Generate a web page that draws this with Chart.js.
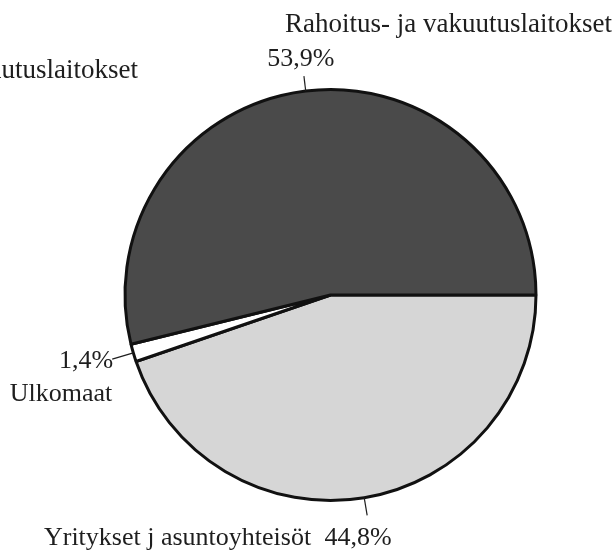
<!DOCTYPE html>
<html>
<head>
<meta charset="utf-8">
<script src="https://cdn.jsdelivr.net/npm/chart.js@4.4.0/dist/chart.umd.min.js"></script>
<style>
    html, body { margin: 0; padding: 0; background: #fff; }
    #wrap { width: 613px; height: 550px; position: relative; }
</style>
</head>
<body>
<div id="wrap"><canvas id="pieChart" width="613" height="550"></canvas></div>
<script>
// Sector shares, clockwise from 3 o'clock
const categories = ['Yritykset j asuntoyhteisöt', 'Ulkomaat', 'Rahoitus- ja vakuutuslaitokset'];
const shares = [44.8, 1.4, 53.9];
const sliceColors = ['#d6d6d6', '#ffffff', '#4a4a4a'];

const FONT = '26px "Liberation Serif", "Times New Roman", serif';
const TITLE_FONT = '27px "Liberation Serif", "Times New Roman", serif';
const INK = '#1e1e1e';

function pct(v) {
    return v.toFixed(1).replace('.', ',') + '%';
}

// Leader lines + labels, placed off each slice's mid angle
const labelPlugin = {
    id: 'sliceLabels',
    afterDraw(chart) {
        const ctx = chart.ctx;
        const arcs = chart.getDatasetMeta(0).data;
        const leaderLen = [18, 22, 15];

        ctx.save();
        ctx.font = FONT;
        ctx.fillStyle = INK;
        ctx.strokeStyle = INK;
        ctx.lineWidth = 1.2;

        const ends = arcs.map(function (arc, i) {
            const mid = (arc.startAngle + arc.endAngle) / 2;
            const cx = Math.cos(mid), cy = Math.sin(mid);
            const x0 = arc.x + cx * arc.outerRadius;
            const y0 = arc.y + cy * arc.outerRadius;
            const x1 = x0 + cx * leaderLen[i];
            const y1 = y0 + cy * leaderLen[i];
            ctx.beginPath();
            ctx.moveTo(x0, y0);
            ctx.lineTo(x1, y1);
            ctx.stroke();
            return { x: x1, y: y1 };
        });

        // Yritykset (bottom)
        ctx.textAlign = 'center';
        ctx.textBaseline = 'alphabetic';
        ctx.fillText(pct(shares[0]), ends[0].x - 9, ends[0].y + 30);
        ctx.textAlign = 'right';
        ctx.fillText(categories[0], ends[0].x - 56, ends[0].y + 30);

        // Ulkomaat (left)
        ctx.textAlign = 'right';
        ctx.fillText(pct(shares[1]), ends[1].x + 1, ends[1].y + 9);
        ctx.fillText(categories[1], ends[1].x + 0, ends[1].y + 42);

        // Rahoitus (top)
        ctx.textAlign = 'center';
        ctx.fillText(pct(shares[2]), ends[2].x - 3, ends[2].y - 10);
        ctx.font = TITLE_FONT;
        ctx.textAlign = 'right';
        ctx.fillText(categories[2], 612, 32);

        // cut-off label from the neighbouring figure
        ctx.fillText('Rahoitus- ja vakuutuslaitokset', 138, 78);
        ctx.restore();
    }
};

const ctx = document.getElementById('pieChart').getContext('2d');
const pieChart = new Chart(ctx, {
    type: 'pie',
    data: {
        labels: categories,
        datasets: [{
            data: shares,
            backgroundColor: sliceColors,
            borderColor: '#111111',
            borderWidth: 3
        }]
    },
    options: {
        responsive: false,
        animation: false,
        rotation: 90,
        layout: {
            padding: { left: 122, right: 74, top: 88, bottom: 48 }
        },
        plugins: {
            legend: { display: false },
            tooltip: { enabled: false }
        }
    },
    plugins: [labelPlugin]
});
</script>
</body>
</html>
